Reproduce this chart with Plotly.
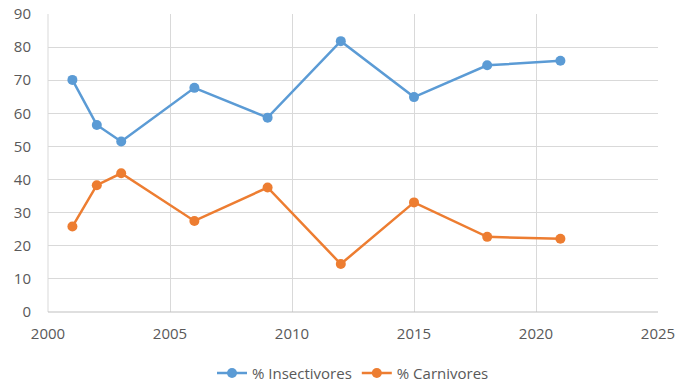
import plotly.graph_objects as go

years = [2001, 2002, 2003, 2006, 2009, 2012, 2015, 2018, 2021]
insectivores = [70.1, 56.5, 51.5, 67.7, 58.7, 81.8, 64.9, 74.5, 75.9]
carnivores = [25.8, 38.3, 41.9, 27.5, 37.6, 14.5, 33.1, 22.7, 22.1]

fig = go.Figure()
fig.add_trace(go.Scatter(x=years, y=insectivores, mode="lines+markers", name="% Insectivores",
                         line=dict(color="#5B9BD5", width=2.5), marker=dict(size=10, color="#5B9BD5")))
fig.add_trace(go.Scatter(x=years, y=carnivores, mode="lines+markers", name="% Carnivores",
                         line=dict(color="#ED7D31", width=2.5), marker=dict(size=10, color="#ED7D31")))

fig.update_layout(
    width=689, height=386,
    margin=dict(l=48, r=31, t=14, b=74, autoexpand=False),
    plot_bgcolor="white", paper_bgcolor="white",
    font=dict(family="Open Sans, Liberation Sans, sans-serif", size=15, color="#595959"),
    showlegend=True,
    legend=dict(orientation="h", x=0.5, xanchor="center", y=-0.15, yanchor="top",
                font=dict(size=15, color="#595959"), itemwidth=30),
    xaxis=dict(range=[2000, 2025], dtick=5, tick0=2000, showgrid=True, gridcolor="#d9d9d9",
               zeroline=False, showline=False, ticks="", automargin=False, ticklabelstandoff=11,
               ticklabeloverflow="allow"),
    yaxis=dict(range=[0, 90], dtick=10, showgrid=True, gridcolor="#d9d9d9",
               zeroline=False, showline=False, ticks="", automargin=False, ticklabelstandoff=16,
               ticklabeloverflow="allow"),
)
fig.add_shape(type="line", xref="paper", yref="paper", x0=0, x1=0, y0=0, y1=1,
              line=dict(color="#d9d9d9", width=1))
fig.add_shape(type="line", xref="paper", yref="paper", x0=0, x1=1, y0=0, y1=0,
              line=dict(color="#bfbfbf", width=1))
fig.write_html("out.html", config={"displayModeBar": False},
               post_script="document.body.style.margin='0px';document.body.style.overflow='hidden';")
